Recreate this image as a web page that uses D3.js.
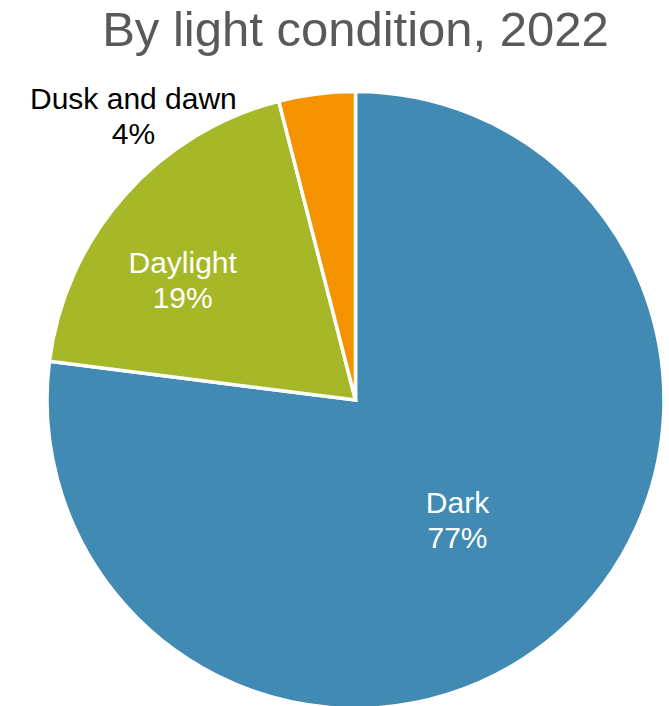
<!DOCTYPE html>
<html>
<head>
<meta charset="utf-8">
<script src="https://cdn.jsdelivr.net/npm/d3@7/dist/d3.min.js"></script>
<style>
  html, body { margin: 0; padding: 0; background: #fff; overflow: hidden; }
  svg { display: block; font-family: "Liberation Sans", Arial, sans-serif; }
</style>
</head>
<body>
<div id="chart"></div>
<script>
// chart data
var categories = ["Dark", "Daylight", "Dusk and dawn"];
var shares = [77, 19, 4];
var sliceColors = ["#418ab3", "#a6b727", "#f59200"];
var labelColors = ["#ffffff", "#ffffff", "#000000"];
var title = "By light condition, 2022";

// label anchors: angle (deg, clockwise from top) and distance as fraction of radius
var labelPolar = [[139.3, 0.507], [304.9, 0.683], [322.1, 1.172]];

var width = 669, height = 706;
var cx = 355.5, cy = 400, radius = 308.5;

var svg = d3.select("#chart")
  .append("svg")
  .attr("width", width)
  .attr("height", height);

// title
svg.append("text")
  .attr("x", cx)
  .attr("y", 46)
  .attr("text-anchor", "middle")
  .attr("font-size", "49px")
  .attr("fill", "#595959")
  .text(title);

var data = categories.map(function (c, i) {
  return { name: c, value: shares[i], color: sliceColors[i], labelColor: labelColors[i], polar: labelPolar[i] };
});

var pie = d3.pie()
  .sort(null)
  .value(function (d) { return d.value; });

var arc = d3.arc()
  .innerRadius(0)
  .outerRadius(radius);

var g = svg.append("g")
  .attr("transform", "translate(" + cx + "," + cy + ")");

g.selectAll("path")
  .data(pie(data))
  .enter().append("path")
  .attr("d", arc)
  .attr("fill", function (d) { return d.data.color; })
  .attr("stroke", "#ffffff")
  .attr("stroke-width", 3.5)
  .attr("stroke-linejoin", "miter");

// labels
var labels = g.selectAll(".lbl")
  .data(pie(data))
  .enter().append("text")
  .attr("class", "lbl")
  .attr("text-anchor", "middle")
  .attr("font-size", "30px")
  .attr("fill", function (d) { return d.data.labelColor; })
  .attr("transform", function (d) {
    var a = d.data.polar[0] * Math.PI / 180;
    var r = d.data.polar[1] * radius;
    return "translate(" + (r * Math.sin(a)) + "," + (-r * Math.cos(a)) + ")";
  });

labels.append("tspan")
  .attr("x", 0)
  .attr("y", -6)
  .text(function (d) { return d.data.name; });

labels.append("tspan")
  .attr("x", 0)
  .attr("y", 29)
  .text(function (d) { return d.data.value + "%"; });
</script>
</body>
</html>
